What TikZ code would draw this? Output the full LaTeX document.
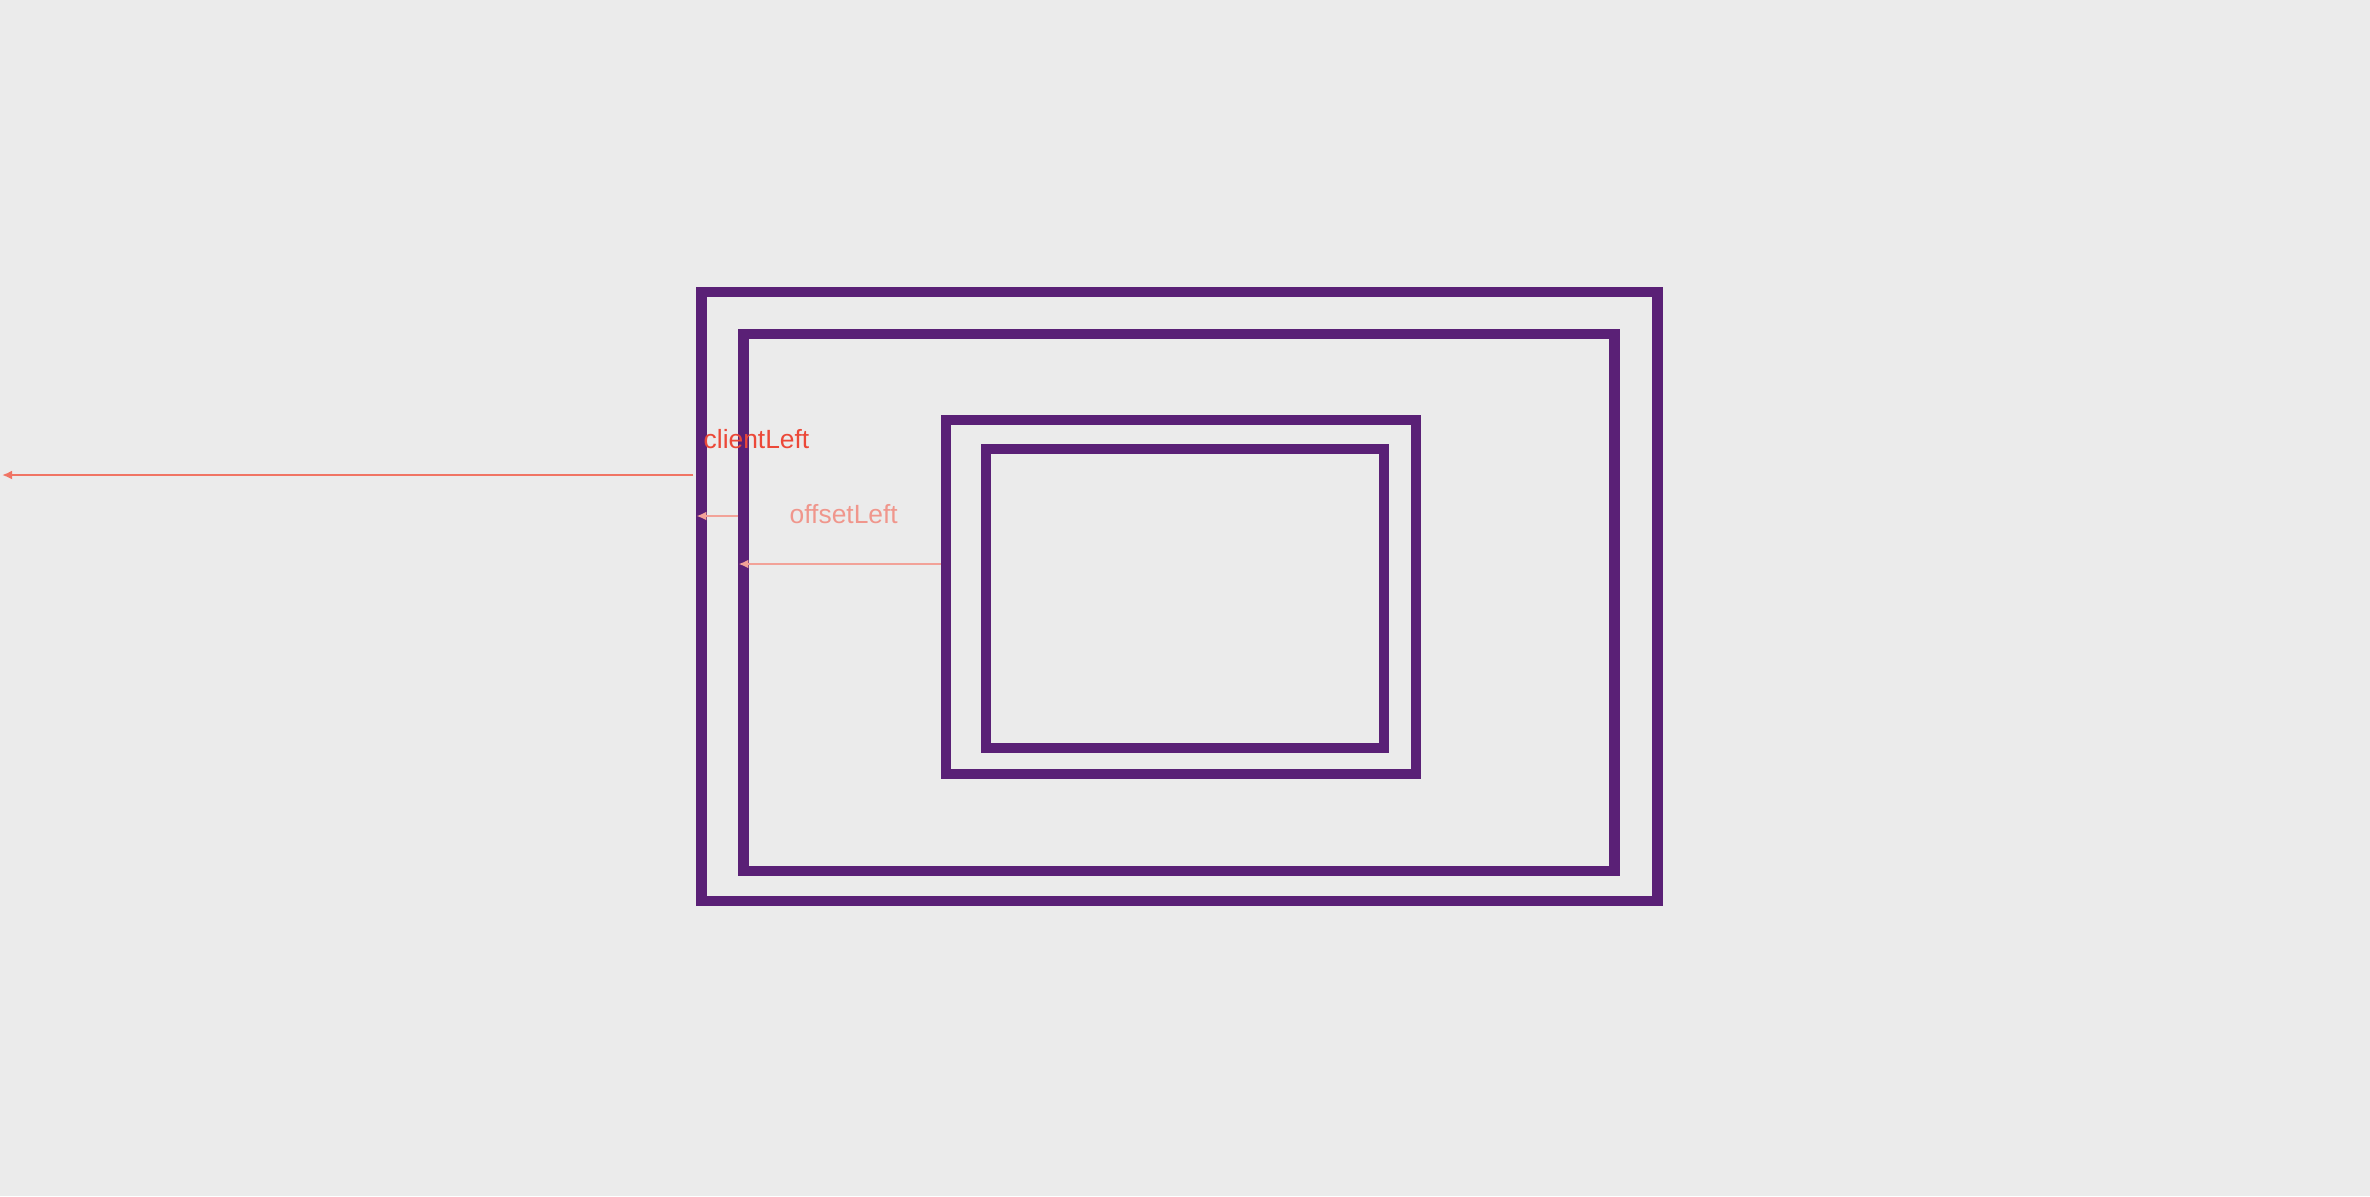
\documentclass[tikz,border=0pt]{standalone}
\usepackage{fontspec}
\setmainfont{Liberation Sans}
\usetikzlibrary{positioning, calc, arrows.meta}
\definecolor{bggray}{RGB}{235,235,235}
\definecolor{boxpurple}{RGB}{90,32,118}
\definecolor{arrowred}{RGB}{240,116,100}
\definecolor{arrowpale}{RGB}{242,162,152}
\definecolor{labelred}{RGB}{236,72,56}
\definecolor{labelpale}{RGB}{240,150,140}

\begin{document}
\begin{tikzpicture}[x=0.01cm, y=-0.01cm,
        frame/.style={rectangle, draw=boxpurple, line width=3pt, inner sep=0pt},
        arrow/.style={-{Latex[length=1mm, width=0.9mm]}, line width=0.6pt, draw=arrowred},
        palearrow/.style={arrow, line width=0.8pt, draw=arrowpale},
        label/.style={anchor=base west, inner sep=0pt, font=\fontsize{7.5}{9}\selectfont}
    ]
        \fill[bggray] (0,0) rectangle (2370,1196);
        \useasboundingbox (0,0) rectangle (2370,1196);

        \node[frame, minimum width=9.55cm, minimum height=6.09cm] (parent) at (1179.5,596.5) {};
        \node[frame, minimum width=8.70cm, minimum height=5.37cm] (parentinner) at (1179,602.5) {};
        \node[frame, minimum width=4.70cm, minimum height=3.54cm] (child) at (1181,597) {};
        \node[frame, minimum width=3.98cm, minimum height=2.99cm] (childinner) at (1185,598.5) {};

        \coordinate (pageedge) at (2,475);

        \node[label, text=labelred] (clientlabel) at (703,448) {clientLeft};
        \node[label, text=labelpale] (offsetlabel) at (789,523) {offsetLeft};

        \draw[arrow, shorten <=0.03cm] (parent.west |- pageedge) -- (pageedge);
        \draw[palearrow] (parentinner.west |- 0,516) -- (parent.west |- 0,516);
        \draw[palearrow] (child.west |- 0,564) -- (parentinner.west |- 0,564);
    \end{tikzpicture}
\end{document}
